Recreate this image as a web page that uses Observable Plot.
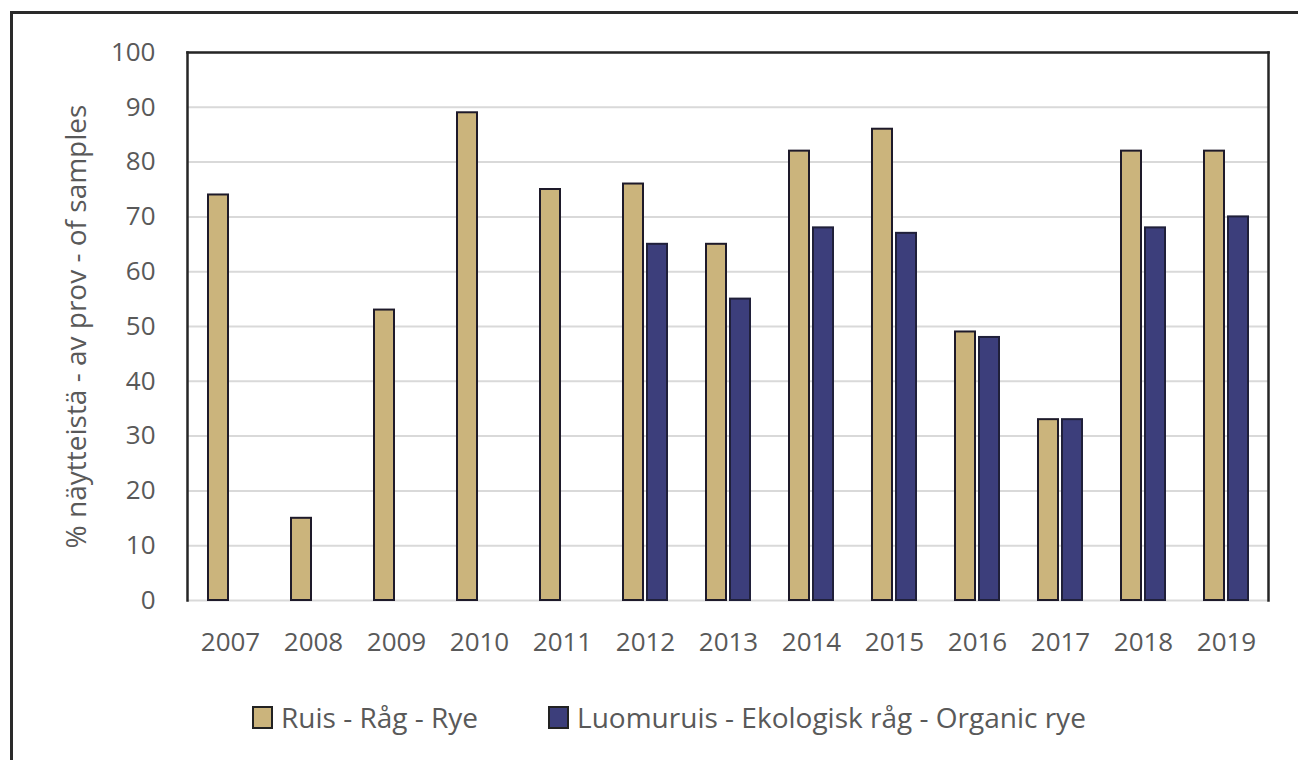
<!DOCTYPE html>
<html>
<head>
<meta charset="utf-8">
<script src="https://cdn.jsdelivr.net/npm/d3@7"></script>
<script src="https://cdn.jsdelivr.net/npm/@observablehq/plot@0.6"></script>
<style>
  html, body { margin: 0; padding: 0; background: #fff; overflow: hidden; }
  #wrap { position: relative; width: 1298px; height: 760px; overflow: hidden; background: #fff; }
  #outer { position: absolute; left: 10px; top: 11px; width: 1400px; height: 900px;
           border-left: 3px solid #2a2a2a; border-top: 3px solid #2a2a2a; pointer-events: none; }
  #chart { position: absolute; left: 0; top: 0; }
  #legend { position: absolute; left: 252px; top: 698px; display: flex; align-items: center;
            font-family: 'Open Sans', sans-serif; font-size: 28px; color: #595959; letter-spacing: 0px; }
  .item { display: flex; align-items: center; margin-right: 70px; }
  .sw { width: 17px; height: 19px; border: 2px solid #222; margin-right: 8px; box-sizing: content-box; }
</style>
</head>
<body>
<div id="wrap">
  <div id="chart"></div>
  <div id="legend"></div>
  <div id="outer"></div>
</div>
<script>
// ---- data ----
const years = ["2007","2008","2009","2010","2011","2012","2013","2014","2015","2016","2017","2018","2019"];
const rye     = [74, 15, 53, 89, 75, 76, 65, 82, 86, 49, 33, 82, 82];
const organic = [null, null, null, null, null, 65, 55, 68, 67, 48, 33, 68, 70];
const seriesNames = ["Ruis - Råg - Rye", "Luomuruis - Ekologisk råg - Organic rye"];
const seriesColors = ["#cbb47c", "#3c3e7b"];
const yTicks = [0, 10, 20, 30, 40, 50, 60, 70, 80, 90, 100];
const yLabel = "% näytteistä - av prov - of samples";

const ryeRows = years.map((year, i) => ({year, series: seriesNames[0], value: rye[i]}));
const orgRows = years.map((year, i) => ({year, series: seriesNames[1], value: organic[i]}))
                     .filter(d => d.value != null);

const frameStyle = {stroke: "#262626", strokeWidth: 2.5};

const chart = Plot.plot({
  width: 1298,
  height: 680,
  marginLeft: 187,
  marginRight: 30,
  marginTop: 52,
  marginBottom: 80,
  style: {fontFamily: "'Open Sans', sans-serif", fontSize: "26px", color: "#595959", background: "transparent", overflow: "visible"},
  x: {domain: years, paddingInner: 0.7595, paddingOuter: 0.37975, label: null, axis: null},
  y: {domain: [0, 100], label: null, axis: null},
  color: {domain: seriesNames, range: seriesColors},
  marks: [
    Plot.ruleY(yTicks, {stroke: "#d9d9d9", strokeWidth: 2}),
    Plot.barY(ryeRows, {x: "year", y: "value", fill: "series", stroke: "#1e1a2a", strokeWidth: 2, dx: -12}),
    Plot.barY(orgRows, {x: "year", y: "value", fill: "series", stroke: "#20203a", strokeWidth: 2, dx: 12}),
    Plot.frame({anchor: "top", ...frameStyle}),
    Plot.frame({anchor: "left", ...frameStyle}),
    Plot.frame({anchor: "right", ...frameStyle}),
    Plot.axisY({ticks: yTicks, tickSize: 0, tickPadding: 32, label: null}),
    Plot.axisX({tickSize: 0, tickPadding: 32, label: null}),
    Plot.text([yLabel], {text: d => d, frameAnchor: "left", textAnchor: "middle", lineAnchor: "middle", rotate: -90, dx: -110, fill: "#595959", fontSize: 28})
  ]
});
document.getElementById("chart").appendChild(chart);

// legend
const legend = document.getElementById("legend");
seriesNames.forEach((name, i) => {
  const item = document.createElement("div");
  item.className = "item";
  const sw = document.createElement("div");
  sw.className = "sw";
  sw.style.background = seriesColors[i];
  const t = document.createElement("span");
  t.textContent = name;
  item.appendChild(sw);
  item.appendChild(t);
  legend.appendChild(item);
});
</script>
</body>
</html>
